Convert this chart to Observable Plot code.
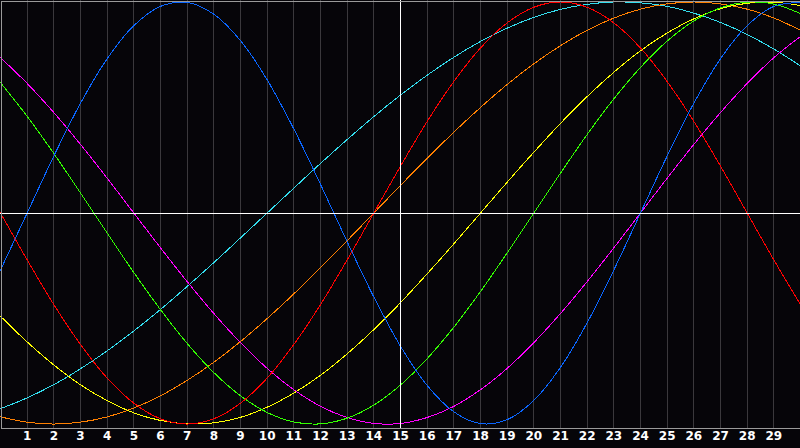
<!DOCTYPE html>
<html>
<head>
<meta charset="utf-8">
<script src="https://cdn.jsdelivr.net/npm/d3@7"></script>
<script src="https://cdn.jsdelivr.net/npm/@observablehq/plot@0.6"></script>
<style>
  html, body { margin: 0; padding: 0; background: #060509; }
  #chart svg { display: block; shape-rendering: crispEdges; }
</style>
</head>
<body>
<div id="chart"></div>
<script>
// Day positions (0 = left edge, 30 = right edge)
const days = [0,1,2,3,4,5,6,7,8,9,10,11,12,13,14,15,16,17,18,19,20,21,22,23,24,25,26,27,28,29,30];
const dayLabels = [1,2,3,4,5,6,7,8,9,10,11,12,13,14,15,16,17,18,19,20,21,22,23,24,25,26,27,28,29];
const today = 15;

// Cycle values (-1..1) at each day
const physical = [-0.270,0,0.270,0.520,0.731,0.888,0.979,0.998,0.942,0.817,0.631,0.398,0.136,-0.136,-0.398,-0.631,-0.817,-0.942,-0.998,-0.979,-0.888,-0.731,-0.520,-0.270,0,0.270,0.520,0.731,0.888,0.979,0.998];
const emotional = [0,-0.222,-0.434,-0.623,-0.782,-0.901,-0.975,-1,-0.975,-0.901,-0.782,-0.623,-0.434,-0.222,0,0.222,0.434,0.623,0.782,0.901,0.975,1,0.975,0.901,0.782,0.623,0.434,0.222,0,-0.222,-0.434];
const intellectual = [0.618,0.458,0.282,0.095,-0.095,-0.282,-0.458,-0.618,-0.756,-0.866,-0.945,-0.990,-0.999,-0.972,-0.910,-0.815,-0.690,-0.541,-0.372,-0.189,0,0.189,0.372,0.541,0.690,0.815,0.910,0.972,0.999,0.990,0.945];
const intuitive = [0.736,0.614,0.476,0.325,0.165,0,-0.165,-0.325,-0.476,-0.614,-0.736,-0.837,-0.916,-0.969,-0.997,-0.997,-0.969,-0.916,-0.837,-0.736,-0.614,-0.476,-0.325,-0.165,0,0.165,0.325,0.476,0.614,0.736,0.837];
const aesthetic = [-0.489,-0.611,-0.720,-0.814,-0.889,-0.947,-0.983,-0.999,-0.994,-0.968,-0.920,-0.853,-0.769,-0.667,-0.552,-0.425,-0.288,-0.146,0,0.146,0.288,0.425,0.552,0.667,0.769,0.853,0.920,0.968,0.994,0.999,0.983];
const awareness = [-0.966,-0.991,-1,-0.991,-0.966,-0.924,-0.866,-0.793,-0.707,-0.609,-0.5,-0.383,-0.259,-0.131,0,0.131,0.259,0.383,0.5,0.609,0.707,0.793,0.866,0.924,0.966,0.991,1,0.991,0.966,0.924,0.866];
const spiritual = [-0.927,-0.876,-0.813,-0.738,-0.653,-0.559,-0.457,-0.348,-0.235,-0.118,0,0.118,0.235,0.348,0.457,0.559,0.653,0.738,0.813,0.876,0.927,0.965,0.989,1.000,0.996,0.979,0.947,0.903,0.846,0.777,0.697];

const seriesNames = ["spiritual","awareness","aesthetic","intuitive","intellectual","emotional","physical"];
const seriesValues = [spiritual, awareness, aesthetic, intuitive, intellectual, emotional, physical];
const seriesColors = ["#33ddee","#ff8000","#ffff00","#ff00ff","#33ff00","#ff0000","#0a66ff"];

const rows = [];
seriesNames.forEach((name, i) => {
  days.forEach((d, j) => rows.push({series: name, day: d, value: seriesValues[i][j]}));
});

const chart = Plot.plot({
  width: 800,
  height: 448,
  marginTop: 0,
  marginLeft: 0,
  marginRight: 0,
  marginBottom: 20,
  style: {
    background: "#060509",
    color: "white",
    fontFamily: "'DejaVu Sans', Verdana, sans-serif",
    fontSize: "12px",
    fontWeight: "bold",
    overflow: "visible"
  },
  x: {domain: [0, 30], axis: null},
  y: {domain: [-1.021, 1.007], axis: null},
  color: {domain: seriesNames, range: seriesColors},
  marks: [
    Plot.ruleX(dayLabels.filter(d => d !== today), {stroke: "#3a383c", strokeWidth: 1}),
    Plot.line(rows, {x: "day", y: "value", z: "series", stroke: "series", strokeWidth: 1, curve: "catmull-rom"}),
    Plot.ruleY([0], {stroke: "white", strokeWidth: 1}),
    Plot.ruleX([today], {stroke: "white", strokeWidth: 1}),
    Plot.frame({stroke: "#9a9a9a", inset: 0.5}),
    Plot.text(dayLabels, {x: d => d, frameAnchor: "bottom", dy: 11, text: d => String(d), fill: "white", fontSize: 12, fontWeight: "bold"})
  ]
});
document.getElementById("chart").appendChild(chart);
</script>
</body>
</html>
